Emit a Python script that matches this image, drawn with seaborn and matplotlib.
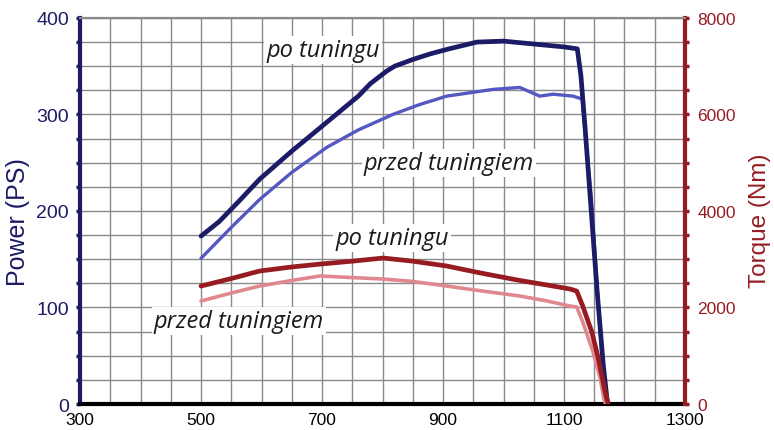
import matplotlib
matplotlib.use("Agg")
import matplotlib.pyplot as plt
from matplotlib.ticker import MultipleLocator
import pandas as pd
import seaborn as sns

# power curves (PS) vs rpm
po_power_rpm = [500, 530, 564, 597, 650, 708, 760, 780, 807, 820, 850, 880, 910, 956, 1000, 1050, 1100, 1122,
                1128, 1135, 1145, 1155, 1165, 1172]
po_power = [174, 189, 211, 233, 262, 292, 319, 332, 345, 350, 357, 363, 368, 375, 376, 373, 370, 368,
            340, 285, 200, 115, 40, 0]
przed_power_rpm = [500, 550, 597, 650, 708, 760, 817, 860, 906, 950, 983, 1027, 1060, 1082, 1115, 1130,
                   1135, 1145, 1155, 1162, 1168]
przed_power = [151, 183, 212, 240, 266, 284, 300, 310, 319, 323, 326, 328, 319, 321, 319, 316,
               280, 215, 120, 55, 3]

# torque curves (Nm) vs rpm
po_torque_rpm = [500, 550, 597, 650, 697, 750, 801, 850, 906, 960, 1027, 1070, 1110, 1121, 1131, 1146, 1157, 1168, 1173]
po_torque = [2445, 2600, 2756, 2840, 2900, 2960, 3025, 2960, 2860, 2720, 2560, 2470, 2383, 2340, 2030, 1492, 932, 249, 0]
przed_torque_rpm = [500, 550, 597, 650, 697, 750, 801, 850, 906, 960, 1027, 1070, 1110, 1121, 1131, 1148, 1160, 1166, 1169]
przed_torque = [2135, 2300, 2445, 2560, 2653, 2620, 2590, 2540, 2445, 2350, 2238, 2140, 2030, 2010, 1700, 1078, 518, 104, 0]

x_ticks = [300, 500, 700, 900, 1100, 1300]

navy = "#1c1c66"
light_blue = "#5558c0"
dark_red = "#961c22"
pink = "#e08890"

sns.set_style("white")
plt.rcParams["font.family"] = ["Liberation Sans", "DejaVu Sans"]

fig = plt.figure(figsize=(7.74, 4.31), dpi=100)
ax = fig.add_axes([0.1034, 0.0603, 0.7816, 0.8957])
ax2 = ax.twinx()

df_po = pd.DataFrame({"rpm": po_power_rpm, "val": po_power})
df_przed = pd.DataFrame({"rpm": przed_power_rpm, "val": przed_power})
sns.lineplot(data=df_przed, x="rpm", y="val", ax=ax, color=light_blue, lw=2.4, sort=False)
sns.lineplot(data=df_po, x="rpm", y="val", ax=ax, color=navy, lw=3.4, sort=False)

dt_po = pd.DataFrame({"rpm": po_torque_rpm, "val": po_torque})
dt_przed = pd.DataFrame({"rpm": przed_torque_rpm, "val": przed_torque})
sns.lineplot(data=dt_przed, x="rpm", y="val", ax=ax2, color=pink, lw=2.6, sort=False)
sns.lineplot(data=dt_po, x="rpm", y="val", ax=ax2, color=dark_red, lw=3.4, sort=False)

ax.set_xlim(300, 1300)
ax.set_ylim(0, 400)
ax2.set_ylim(0, 8000)

ax.set_xticks(x_ticks)
ax.xaxis.set_minor_locator(MultipleLocator(50))
ax.yaxis.set_major_locator(MultipleLocator(100))
ax.yaxis.set_minor_locator(MultipleLocator(25))
ax2.yaxis.set_major_locator(MultipleLocator(2000))
ax2.yaxis.set_minor_locator(MultipleLocator(500))

ax.grid(True, which="both", color="#8a8a8a", lw=1.0)
ax.set_axisbelow(True)
ax2.grid(False)

ax.set_xlabel("")
ax.set_ylabel("")
ax2.set_ylabel("")
fig.text(18 / 774, 1 - 222 / 431, "Power (PS)", color=navy, fontsize=18, rotation=90,
         ha="center", va="center")
fig.text(760 / 774, 1 - 221 / 431, "Torque (Nm)", color=dark_red, fontsize=17.5, rotation=90,
         ha="center", va="center")

ax.tick_params(axis="y", which="both", colors=navy, labelsize=14, direction="out", length=3, width=2.5, pad=5)
ax.tick_params(axis="x", which="both", colors="black", labelsize=12.5, direction="out", length=3, width=2, pad=3)
ax2.tick_params(axis="y", which="both", colors=dark_red, labelsize=12.5, direction="out", length=3, width=2.5, pad=6)

for a in (ax, ax2):
    a.spines["top"].set_color("#8a8a8a")
    a.spines["top"].set_linewidth(1.5)
ax.spines["left"].set_color(navy)
ax.spines["left"].set_linewidth(3)
ax.spines["bottom"].set_color("black")
ax.spines["bottom"].set_linewidth(3)
ax2.spines["right"].set_color(dark_red)
ax2.spines["right"].set_linewidth(3)
ax2.spines["left"].set_visible(False)
ax2.spines["bottom"].set_visible(False)

box = dict(facecolor="white", edgecolor="none", pad=1.5)
lab_kw = dict(fontsize=17, style="italic", color="#1a1a1a", ha="center", va="center",
              family=["Open Sans", "DejaVu Sans"], bbox=box)
ax.text(702, 367, "po tuningu", **lab_kw)
ax.text(910, 250, "przed tuningiem", **lab_kw)
ax.text(816, 172, "po tuningu", **lab_kw)
ax.text(563, 86, "przed tuningiem", **lab_kw)

fig.savefig("out.png", dpi=100)
